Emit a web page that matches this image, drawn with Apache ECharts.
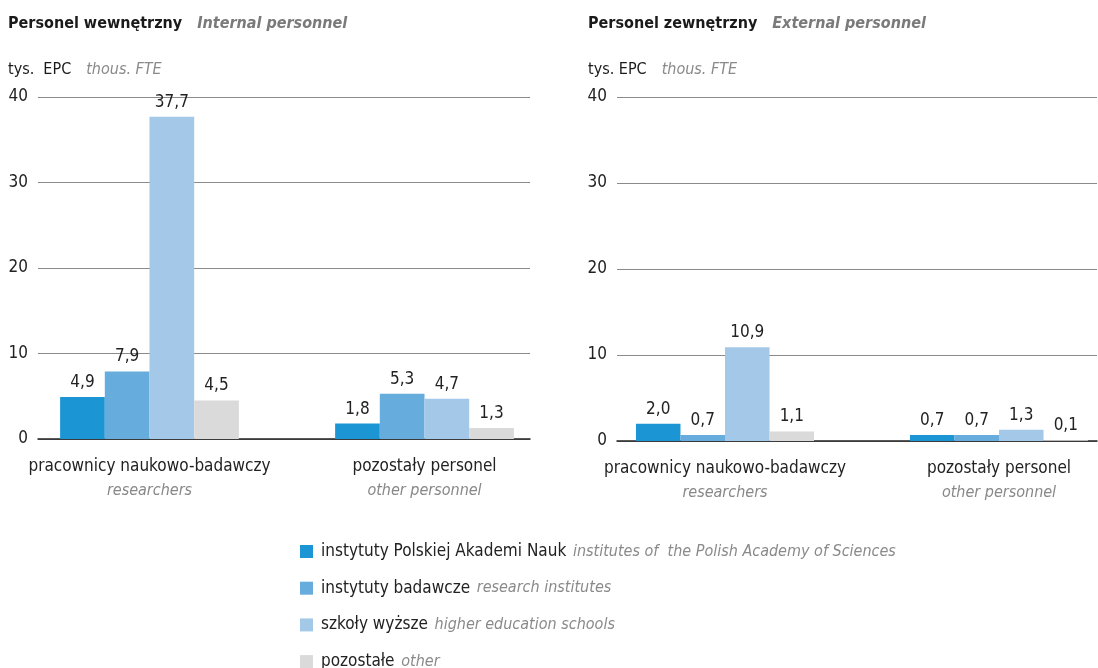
<!doctype html>
<html>
<head>
<meta charset="utf-8">
<title>Personel</title>
<script src="https://cdn.jsdelivr.net/npm/echarts@6/dist/echarts.min.js"></script>
<style>
  html, body { margin: 0; padding: 0; background: #fff; }
  #main { width: 1098px; height: 668px; }
</style>
</head>
<body>
<div id="main"></div>
<script>
  // dane
  var categoriesPl = ['pracownicy naukowo-badawczy', 'pozostały personel'];
  var categoriesEn = ['researchers', 'other personnel'];
  var seriesPl = ['instytuty Polskiej Akademi Nauk', 'instytuty badawcze', 'szkoły wyższe', 'pozostałe'];
  var seriesEn = ['institutes of  the Polish Academy of Sciences', 'research institutes', 'higher education schools', 'other'];
  var colors = ['#1b95d3', '#66acdc', '#a4c8e8', '#dadada'];
  // wewnętrzny: [naukowo-badawczy, pozostały]
  var internalPan = [4.9, 1.8];
  var internalInst = [7.9, 5.3];
  var internalUni = [37.7, 4.7];
  var internalOther = [4.5, 1.3];
  // zewnętrzny
  var externalPan = [2.0, 0.7];
  var externalInst = [0.7, 0.7];
  var externalUni = [10.9, 1.3];
  var externalOther = [1.1, 0.1];
  var yTicks = [0, 10, 20, 30, 40];

  var FONT = '"DejaVu Sans Condensed", "Liberation Sans Narrow", sans-serif';
  var internal = [internalPan, internalInst, internalUni, internalOther];
  var external = [externalPan, externalInst, externalUni, externalOther];

  var myChart = echarts.init(document.getElementById('main'));

  // grids 0,1: linie siatki i osie; grids 2,3: słupki
  var xAxes = [], yAxes = [];
  function frameAxes(idx) {
    xAxes.push({
      type: 'category', gridIndex: idx, data: categoriesPl,
      axisTick: { show: false }, axisLabel: { show: false },
      axisLine: { lineStyle: { color: '#222', width: 1.5 } }
    });
    yAxes.push({
      type: 'value', gridIndex: idx, min: 0, max: 40, interval: 10,
      axisLine: { show: false }, axisTick: { show: false },
      splitLine: { lineStyle: { color: '#8a8a8a', width: 1 } },
      axisLabel: {
        margin: 10, fontFamily: FONT, fontSize: 17, color: '#222',
        formatter: function (v) { return yTicks.indexOf(v) >= 0 ? String(v) : ''; }
      }
    });
  }
  function barAxes(idx) {
    xAxes.push({
      type: 'category', gridIndex: idx, data: categoriesPl,
      axisTick: { show: false }, axisLine: { show: false },
      axisLabel: {
        interval: 0, margin: 16,
        formatter: function (v, i) {
          return '{pl|' + v + '}\n{en|' + categoriesEn[i] + '}';
        },
        rich: {
          pl: { fontFamily: FONT, fontSize: 17, color: '#222', lineHeight: 24 },
          en: { fontFamily: FONT, fontSize: 16, color: '#888', fontStyle: 'italic', lineHeight: 24 }
        }
      }
    });
    yAxes.push({
      type: 'value', gridIndex: idx, min: 0, max: 40, interval: 10, show: false,
      splitLine: { show: false }
    });
  }
  frameAxes(0); frameAxes(1); barAxes(2); barAxes(3);

  var series = [];
  function addSeries(block, idx) {
    block.forEach(function (vals, i) {
      series.push({
        type: 'bar',
        name: seriesPl[i],
        xAxisIndex: idx,
        yAxisIndex: idx,
        data: vals,
        barGap: '0%',
        barCategoryGap: '35%',
        itemStyle: { color: colors[i] },
        label: {
          show: true,
          position: 'top',
          distance: 6,
          fontFamily: FONT,
          fontSize: 17,
          color: '#222',
          formatter: function (p) { return p.value.toFixed(1).replace('.', ','); }
        }
      });
    });
  }
  addSeries(internal, 2);
  addSeries(external, 3);

  var titleRich = {
    a: { fontFamily: FONT, fontSize: 16, fontWeight: 'bold', color: '#1a1a1a' },
    b: { fontFamily: FONT, fontSize: 16, fontWeight: 'bold', fontStyle: 'italic', color: '#7a7a7a' },
    c: { fontFamily: FONT, fontSize: 16, fontWeight: 'normal', color: '#1a1a1a' },
    d: { fontFamily: FONT, fontSize: 16, fontWeight: 'normal', fontStyle: 'italic', color: '#8a8a8a' }
  };

  var legends = seriesPl.map(function (name, i) {
    return {
      orient: 'vertical',
      left: 298,
      top: 538 + i * 36.7,
      padding: [5, 2, 5, 2],
      itemWidth: 13,
      itemHeight: 13,
      icon: 'rect',
      data: [name],
      formatter: function (n) {
        return '{pl|' + n + '}  {en|' + seriesEn[seriesPl.indexOf(n)] + '}';
      },
      textStyle: {
        padding: [0, 0, 0, 3],
        rich: {
          pl: { fontFamily: FONT, fontSize: 17, color: '#222' },
          en: { fontFamily: FONT, fontSize: 16, fontStyle: 'italic', color: '#8a8a8a' }
        }
      }
    };
  });

  myChart.setOption({
    backgroundColor: '#fff',
    animation: false,
    title: [
      { left: 8, top: 15, padding: 0, text: '{a|Personel wewnętrzny}   {b|Internal personnel}', textStyle: { rich: titleRich } },
      { left: 8, top: 61, padding: 0, text: '{c|tys.  EPC}   {d|thous. FTE}', textStyle: { rich: titleRich } },
      { left: 588, top: 15, padding: 0, text: '{a|Personel zewnętrzny}   {b|External personnel}', textStyle: { rich: titleRich } },
      { left: 588, top: 61, padding: 0, text: '{c|tys. EPC}   {d|thous. FTE}', textStyle: { rich: titleRich } }
    ],
    legend: legends,
    grid: [
      { left: 38, width: 492, top: 97, height: 342, outerBoundsMode: 'none' },
      { left: 617, width: 480, top: 97, height: 344, outerBoundsMode: 'none' },
      { left: 12, width: 550, top: 97, height: 342, outerBoundsMode: 'none' },
      { left: 588, width: 548, top: 97, height: 344, outerBoundsMode: 'none' }
    ],
    xAxis: xAxes,
    yAxis: yAxes,
    series: series
  });
</script>
</body>
</html>
